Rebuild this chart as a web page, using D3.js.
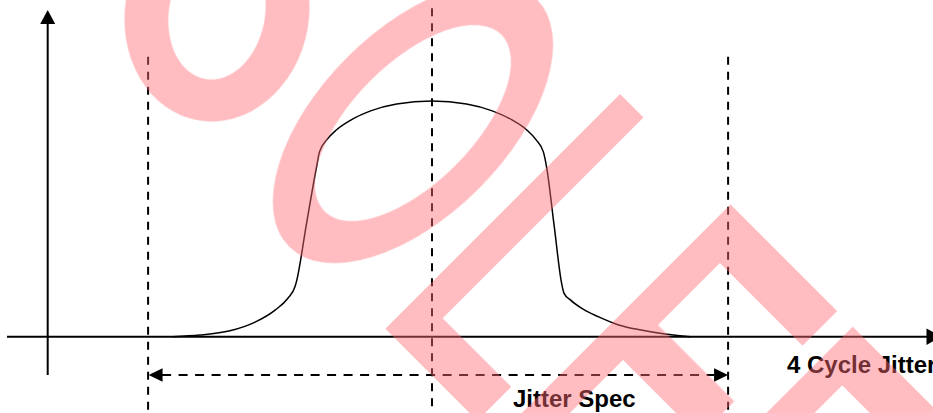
<!DOCTYPE html>
<html>
<head>
<meta charset="utf-8">
<title>4 Cycle Jitter</title>
<script src="https://d3js.org/d3.v7.min.js"></script>
<style>
  body { margin: 0; background: #fff; }
  svg { display: block; }
  text { font-family: "Liberation Sans", Arial, sans-serif; font-weight: bold; }
</style>
</head>
<body>
<svg id="chart" width="933" height="413"></svg>
<script>
// jitter distribution (x: jitter, spec limits near +-1; y: relative density)
const jitterX = [-0.894, -0.800, -0.697, -0.610, -0.541, -0.497, -0.472, -0.467, -0.433, -0.398,
                 -0.388, -0.364, -0.329, -0.277, -0.209, -0.122, 0.000, 0.119, 0.205, 0.274,
                 0.326, 0.360, 0.384, 0.395, 0.421, 0.447, 0.455, 0.478, 0.521, 0.575,
                 0.641, 0.721, 0.803, 0.891];
const density = [0.000, 0.007, 0.025, 0.062, 0.113, 0.163, 0.214, 0.236, 0.478, 0.721,
                 0.784, 0.834, 0.878, 0.921, 0.959, 0.987, 1.000, 0.987, 0.959, 0.921,
                 0.878, 0.834, 0.784, 0.721, 0.473, 0.226, 0.185, 0.155, 0.117, 0.084,
                 0.051, 0.028, 0.011, 0.000];

// vertical guides: left spec limit, nominal, right spec limit
const guideX = [-0.979, 0, 1.021];
const xLabel = "4 Cycle Jitter";
const specLabel = "Jitter Spec";

const svg = d3.select("#chart");
const x = d3.scaleLinear().domain([-1, 1]).range([142, 722]);
const y = d3.scaleLinear().domain([0, 1]).range([336.7, 101]);

const H = 413;
const ink = "#000";

function tri(pts) {
  return "M" + pts.map(p => p.join(",")).join("L") + "Z";
}

// axes
const axisX = 47.7;
svg.append("line")
  .attr("x1", 7).attr("x2", 927)
  .attr("y1", y(0)).attr("y2", y(0))
  .attr("stroke", ink).attr("stroke-width", 2);
svg.append("path")
  .attr("d", tri([[941, y(0)], [926.5, y(0) - 8.3], [926.5, y(0) + 8.3]]))
  .attr("fill", ink);

svg.append("line")
  .attr("x1", axisX).attr("x2", axisX)
  .attr("y1", 375).attr("y2", 22)
  .attr("stroke", ink).attr("stroke-width", 2);
svg.append("path")
  .attr("d", tri([[axisX, 10], [axisX - 7.5, 24], [axisX + 7.5, 24]]))
  .attr("fill", ink);

// dashed guides
svg.selectAll("line.guide")
  .data(guideX)
  .join("line")
  .attr("class", "guide")
  .attr("x1", d => x(d)).attr("x2", d => x(d))
  .attr("y1", (d, i) => i === 1 ? 8.3 : 56.7)
  .attr("y2", H)
  .attr("stroke", ink).attr("stroke-width", 2)
  .attr("stroke-dasharray", "8,7");

// spec dimension arrow
const arrowY = 375;
const xl = x(guideX[0]), xr = x(guideX[2]);
svg.append("line")
  .attr("x1", xl + 14).attr("x2", xr - 14)
  .attr("y1", arrowY).attr("y2", arrowY)
  .attr("stroke", ink).attr("stroke-width", 2)
  .attr("stroke-dasharray", "9,7.5");
svg.append("path")
  .attr("d", tri([[xl + 0.5, arrowY], [xl + 14.5, arrowY - 6.7], [xl + 14.5, arrowY + 6.7]]))
  .attr("fill", ink);
svg.append("path")
  .attr("d", tri([[xr, arrowY], [xr - 14, arrowY - 6.7], [xr - 14, arrowY + 6.7]]))
  .attr("fill", ink);

// distribution curve
const line = d3.line()
  .x((d, i) => x(jitterX[i]))
  .y(d => y(d))
  .curve(d3.curveMonotoneX);
svg.append("path")
  .datum(density)
  .attr("d", line)
  .attr("fill", "none")
  .attr("stroke", ink)
  .attr("stroke-width", 1.5);

// labels
svg.append("text")
  .attr("x", 787).attr("y", 373.3)
  .attr("font-size", 24)
  .attr("fill", ink)
  .text(xLabel);
svg.append("text")
  .attr("x", 513).attr("y", 406.7)
  .attr("font-size", 24)
  .attr("fill", ink)
  .text(specLabel);

// pink watermark laid over the drawing
const wm = svg.append("g")
  .attr("opacity", 0.45)
  .attr("fill", "rgb(255,108,118)");

function ellipse(cx, cy, rx, ry) {
  return `M${cx - rx},${cy}a${rx},${ry} 0 1,0 ${2 * rx},0a${rx},${ry} 0 1,0 ${-2 * rx},0Z`;
}
wm.append("path")
  .attr("transform", "rotate(10,217,13)")
  .attr("fill-rule", "evenodd")
  .attr("d", ellipse(217, 13, 92, 109) + ellipse(217, 13, 48, 67));

// glyphs in a frame turned 45 degrees
const glyphs = wm.append("g").attr("transform", "rotate(45)");
glyphs.append("path")
  .attr("fill-rule", "evenodd")
  .attr("d", ellipse(379, -205, 93, 175) + ellipse(379, -205, 60, 125));

const bars = [
  // L
  [505, -372, 33, 332], [505, -88, 130, 48],
  // F
  [661, -372, 34, 332], [661, -372, 151, 49], [661, -235.5, 142, 49.5],
  // F
  [834, -372, 34, 332], [834, -372, 151, 49], [834, -235.5, 142, 49.5]
];
glyphs.selectAll("rect")
  .data(bars)
  .join("rect")
  .attr("x", d => d[0]).attr("y", d => d[1])
  .attr("width", d => d[2]).attr("height", d => d[3]);
</script>
</body>
</html>
